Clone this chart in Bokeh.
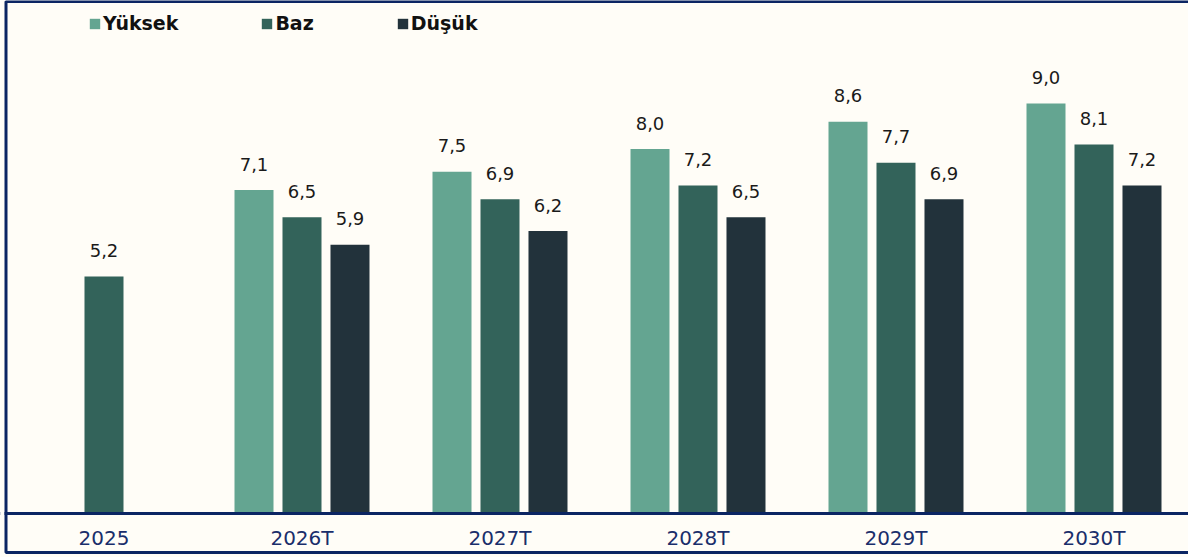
from bokeh.plotting import figure
from bokeh.models import ColumnDataSource, Range1d, FixedTicker, Legend, LegendItem, BoxAnnotation
from bokeh.core.properties import value
from bokeh.embed import file_html
from bokeh.resources import INLINE

categories = ["2025", "2026T", "2027T", "2028T", "2029T", "2030T"]
series_names = ["Yüksek", "Baz", "Düşük"]
yuksek = [None, 7.1, 7.5, 8.0, 8.6, 9.0]
baz = [5.2, 6.5, 6.9, 7.2, 7.7, 8.1]
dusuk = [None, 5.9, 6.2, 6.5, 6.9, 7.2]
colors = ["#64a591", "#33635a", "#22323b"]

NAVY = "#0b2563"
BG = "#fffdf7"
FONT = "DejaVu Sans"

W, H = 1188, 557
PX_PER_UNIT = 45.56
AXIS_Y = 513
p = figure(width=W, height=H, output_backend="svg", toolbar_location=None,
           x_range=Range1d(-0.5227, 5.4773),
           y_range=Range1d(-(H - AXIS_Y) / PX_PER_UNIT, AXIS_Y / PX_PER_UNIT),
           min_border_left=0, min_border_right=0, min_border_top=0, min_border_bottom=0)
p.background_fill_color = BG
p.border_fill_color = BG
p.outline_line_color = None
p.xgrid.visible = False
p.ygrid.visible = False
p.yaxis.visible = False

offsets = [-0.2424, 0.0, 0.2424]
bw = 0.197
items = []
for s_vals, name, col, off in zip([yuksek, baz, dusuk], series_names, colors, offsets):
    xs, tops, labels = [], [], []
    for i, v in enumerate(s_vals):
        if v is None:
            continue
        xs.append(i + off)
        tops.append(v)
        labels.append(f"{v:.1f}".replace(".", ","))
    src = ColumnDataSource(dict(x=xs, top=tops, label=labels))
    r = p.vbar(x="x", top="top", bottom=0, width=bw, source=src, fill_color=col, line_color=None)
    p.text(x="x", y="top", text="label", source=src, text_align="center",
           text_baseline="alphabetic", y_offset=-26, text_font=value(FONT),
           text_font_size="18px", text_color="#1a1a1a")
    items.append(LegendItem(label=name, renderers=[r]))

legend = Legend(items=items, orientation="horizontal", location=(88, H - 34),
                spacing=82, glyph_width=13, glyph_height=13, label_standoff=2,
                padding=0, margin=0, background_fill_alpha=0, border_line_color=None,
                label_text_font=FONT, label_text_font_style="bold",
                label_text_font_size="19px", label_text_color="#111111")
p.add_layout(legend)

ax = p.xaxis[0]
ax.fixed_location = 0
ax.ticker = FixedTicker(ticks=list(range(len(categories))))
ax.major_label_overrides = {i: c for i, c in enumerate(categories)}
ax.axis_line_color = NAVY
ax.axis_line_width = 3
ax.major_tick_line_color = None
ax.minor_tick_line_color = None
ax.major_tick_out = 0
ax.major_label_standoff = 12
ax.major_label_text_font = FONT
ax.major_label_text_font_size = "20px"
ax.major_label_text_color = "#1a2e6b"

edge_cover = BoxAnnotation(left=0, right=4, top=0, bottom=H,
                           left_units="canvas", right_units="canvas",
                           top_units="canvas", bottom_units="canvas",
                           fill_color=BG, fill_alpha=1, line_color=None,
                           level="overlay")
p.add_layout(edge_cover)
frame_border = BoxAnnotation(left=5.5, right=W + 4, top=1.0, bottom=552,
                             left_units="canvas", right_units="canvas",
                             top_units="canvas", bottom_units="canvas",
                             fill_alpha=0, line_color=NAVY, line_alpha=1, line_width=3,
                             level="overlay")
p.add_layout(frame_border)

open("out.html", "w").write(file_html(p, INLINE))
